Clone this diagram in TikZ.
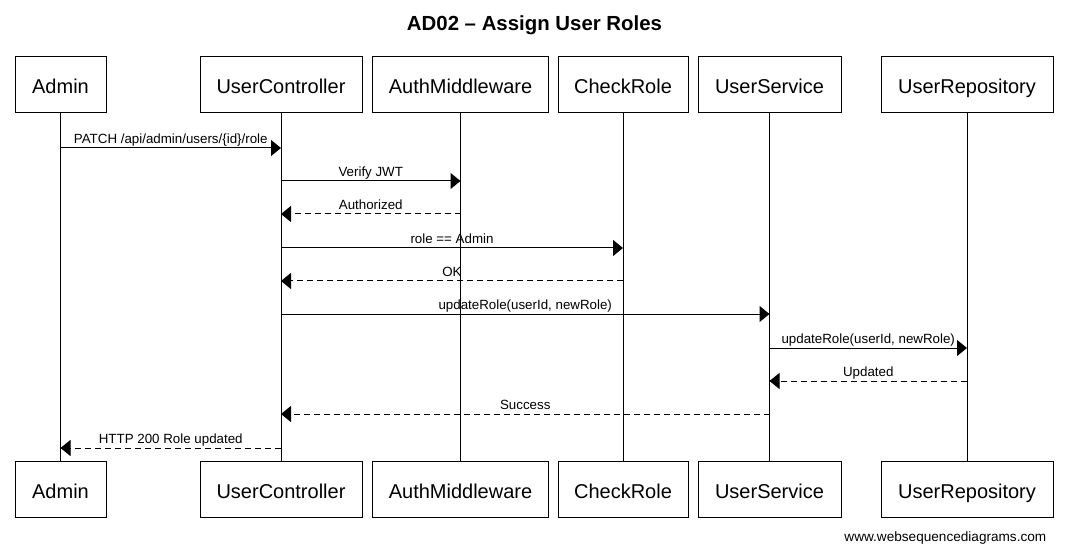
\documentclass[tikz,border=0pt]{standalone}
\usepackage{fontspec}
\setmainfont{Liberation Sans}
\usetikzlibrary{arrows.meta}
\tikzset{
  part/.style={rectangle, draw=black, fill=white, line width=0.75pt, minimum height=42pt,
               inner sep=0pt, text height=15.5pt, text depth=2pt, font=\fontsize{15}{18}\selectfont},
  life/.style={draw=black, line width=0.75pt},
  call/.style={-{Triangle[length=7.5pt, width=12pt]}, draw=black, line width=0.75pt},
  ret/.style={call, dash pattern=on 4.5pt off 3pt},
  lbl/.style={font=\fontsize{10}{12}\selectfont, inner sep=0pt, anchor=base, yshift=3.2pt}
}

\begin{document}
\begin{tikzpicture}[x=0.75pt, y=-0.75pt]
\useasboundingbox (0,0) rectangle (1067,552);

\node[font=\fontsize{15.3}{18}\selectfont\bfseries] (title) at (534.5,25) {AD02 -- Assign User Roles};

% --- participants, top and bottom, with their lifelines
\foreach \nm/\txt/\cx/\bw in {admin/Admin/60.5/68.25pt, ctrl/UserController/281/121.5pt,
    auth/AuthMiddleware/460.5/132pt, role/CheckRole/623/97.5pt,
    svc/UserService/769.5/107.25pt, repo/UserRepository/967/129pt}{
  \node[part, minimum width=\bw] (\nm T) at (\cx,85) {\txt};
  \node[part, minimum width=\bw] (\nm B) at (\cx,489.5) {\txt};
  \draw[life] (\nm T) -- (\nm B);
}

% --- messages
\draw[call] (adminT |- 0,148) -- node[lbl]{PATCH /api/admin/users/\{id\}/role} (ctrlT |- 0,148);
\draw[call] (ctrlT |- 0,181) -- node[lbl]{Verify JWT} (authT |- 0,181);
\draw[ret] (authT |- 0,214) -- node[lbl]{Authorized} (ctrlT |- 0,214);
\draw[call] (ctrlT |- 0,248) -- node[lbl]{role == Admin} (roleT |- 0,248);
\draw[ret] (roleT |- 0,281) -- node[lbl]{OK} (ctrlT |- 0,281);
\draw[call] (ctrlT |- 0,314) -- node[lbl]{updateRole(userId, newRole)} (svcT |- 0,314);
\draw[call] (svcT |- 0,348) -- node[lbl]{updateRole(userId, newRole)} (repoT |- 0,348);
\draw[ret] (repoT |- 0,381) -- node[lbl]{Updated} (svcT |- 0,381);
\draw[ret] (svcT |- 0,414) -- node[lbl]{Success} (ctrlT |- 0,414);
\draw[ret] (ctrlT |- 0,448) -- node[lbl]{HTTP 200 Role updated} (adminT |- 0,448);

\node[anchor=east, font=\fontsize{10.2}{12}\selectfont] (site) at (1051,538) {www.websequencediagrams.com};
\end{tikzpicture}
\end{document}
